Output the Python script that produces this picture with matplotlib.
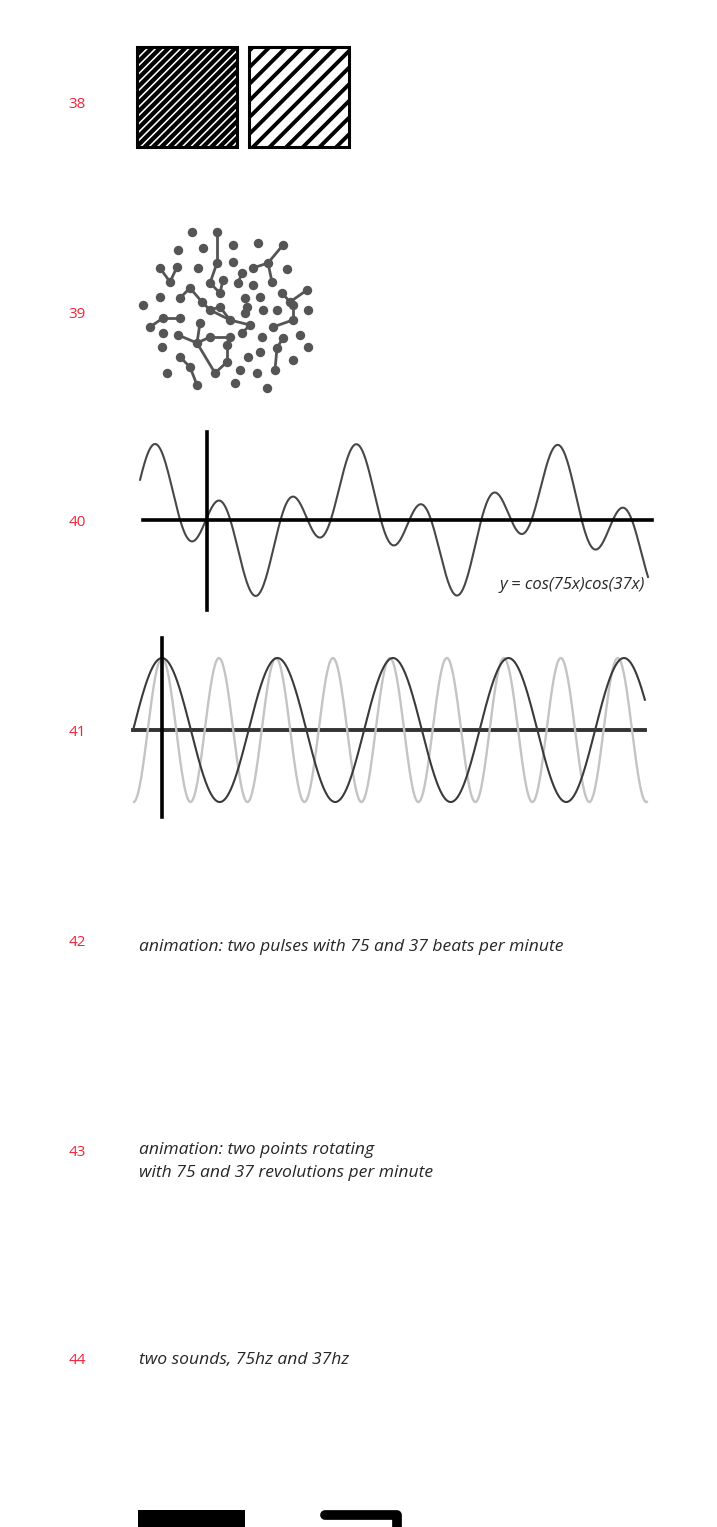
import matplotlib
matplotlib.use('Agg')
import matplotlib.pyplot as plt
import numpy as np

# ---- data ----
row_labels = ['38', '39', '40', '41', '42', '43', '44']
row_y = [105, 315, 523, 732, 943, 1152, 1360]

captions = [
    ('animation: two pulses with 75 and 37 beats per minute', 947),
    ('animation: two points rotating', 1150),
    ('with 75 and 37 revolutions per minute', 1173),
    ('two sounds, 75hz and 37hz', 1360),
]
formula_label = 'y = cos(75x)cos(37x)'

# 38: two hatched squares
square_pos = [0, 1]
square_hatch = ['////', '//']
hatch_width = [3.1, 2.8]

# 39: dot network (panel pixel units)
node_x = [72, 97, 58, 83, 113, 138, 163, 113, 40, 57, 78, 97, 133, 122, 148, 167,
          50, 90, 103, 118, 133, 152, 70, 40, 60, 100, 125, 140, 162, 187, 23, 100,
          127, 143, 157, 173, 188, 30, 43, 60, 80, 110, 125, 130, 153, 173, 43, 58,
          90, 110, 122, 142, 163, 180, 42, 77, 107, 140, 157, 188, 60, 128, 173, 47,
          70, 95, 107, 120, 137, 155, 77, 115, 147, 82, 90, 170]
node_y = [22, 22, 40, 38, 35, 33, 35, 52, 58, 57, 58, 53, 58, 63, 53, 59,
          72, 73, 70, 73, 75, 72, 78, 87, 88, 83, 88, 87, 83, 80, 95, 97,
          97, 100, 100, 95, 100, 117, 108, 108, 113, 110, 103, 115, 117, 110, 123, 125,
          127, 127, 123, 127, 128, 125, 137, 133, 135, 142, 138, 137, 147, 147, 150, 163,
          157, 163, 152, 160, 163, 160, 175, 173, 178, 92, 100, 92]
edges = [(1, 11), (11, 17), (17, 25), (6, 14), (14, 12), (14, 21), (8, 16), (16, 9),
         (22, 24), (22, 73), (73, 74), (74, 31), (37, 38), (38, 39), (55, 47), (55, 40),
         (55, 48), (55, 65), (65, 66), (66, 56), (56, 49), (48, 49), (60, 64), (64, 70),
         (58, 69), (52, 58), (35, 45), (45, 44), (28, 75), (29, 75), (75, 35), (19, 13),
         (31, 41), (41, 43), (43, 50), (18, 25), (74, 41)]

# 40: y = cos(75x)cos(37x)
f_fast, f_slow = 75, 37
x40_range = (-0.0559, 0.368)
x40_phase = -0.0434
x40_axis = (-0.0534, 0.3714)
y40_axis = (1.16, -1.18)

# 41: cos(37x) and cos(75x)
x41_dark = (-0.0426, 0.710)
x41_light = (-0.0412, 0.713)
x41_axis = (-0.0426, 0.710)
y41_axis = (1.28, -1.21)

W, H = 717, 1527
fig = plt.figure(figsize=(W / 100, H / 100), dpi=100)
fig.patch.set_facecolor('white')


def panel(x0, y0, x1, y1):
    ax = fig.add_axes([x0 / W, 1 - y1 / H, (x1 - x0) / W, (y1 - y0) / H])
    ax.set_axis_off()
    return ax


# background layer for texts
bg = panel(0, 0, W, H)
bg.set_xlim(0, W)
bg.set_ylim(H, 0)

red = '#f2243a'
for lab, yy in zip(row_labels, row_y):
    bg.text(77, yy, lab, color=red, fontsize=11, ha='center', va='center',
            family='Open Sans')
for txt, yy in captions:
    bg.text(139, yy, txt, color='#262626', fontsize=12.6, style='italic',
            ha='left', va='center', family='Open Sans')
bg.text(645, 585, formula_label, color='#262626', fontsize=12, style='italic',
        ha='right', va='center', family='Open Sans')

# bottom cut-off shapes
bg.fill_between([138, 245], 1510, 1535, color='black', lw=0)
bg.plot([325, 397, 397], [1515, 1515, 1535], color='black', lw=7,
        solid_capstyle='round', solid_joinstyle='round')

# ---- 38 ----
ax38 = panel(130, 40, 357, 155)
for xp, h, hw in zip(square_pos, square_hatch, hatch_width):
    with plt.rc_context({'hatch.linewidth': hw}):
        ax38.bar(xp, 1, width=100 / 112, bottom=0, color='white',
                 edgecolor='black', linewidth=2.2, hatch=h)
ax38.set_xlim(-57 / 112, 170 / 112)
ax38.set_ylim(-0.08, 1.07)

# ---- 39 ----
ax39 = panel(120, 210, 340, 400)
for i, j in edges:
    ax39.plot([node_x[i], node_x[j]], [node_y[i], node_y[j]], color='#555555',
              lw=2.0, solid_capstyle='round')
ax39.scatter(node_x, node_y, s=46, color='#555555', linewidths=0, zorder=3)
ax39.set_xlim(0, 220)
ax39.set_ylim(190, 0)

# ---- 40 ----
ax40 = panel(130, 425, 660, 615)
x = np.linspace(*x40_range, 1200)
y = np.cos(f_fast * (x - x40_phase)) * np.cos(f_slow * (x - x40_phase))
ax40.plot(x, y, color='#474747', lw=1.5, zorder=2)
ax40.plot(x40_axis, [0, 0], color='black', lw=2.6, zorder=3)
ax40.plot([0, 0], y40_axis, color='black', lw=2.6, zorder=4)
ax40.set_xlim(-0.0643, 0.378)
ax40.set_ylim(-1.25, 1.25)

# ---- 41 ----
ax41 = panel(125, 630, 655, 825)
xa = np.linspace(*x41_dark, 1200)
xb = np.linspace(*x41_light, 1200)
ax41.plot(x41_axis, [0, 0], color='#333333', lw=2.8, zorder=1)
ax41.plot(xb, np.cos(f_fast * xb), color='#c4c4c4', lw=1.7, zorder=2)
ax41.plot(xa, np.cos(f_slow * xa), color='#3a3a3a', lw=1.5, zorder=3)
ax41.plot([0, 0], y41_axis, color='black', lw=2.6, zorder=4)
ax41.set_xlim(-0.0544, 0.7249)
ax41.set_ylim(-1.319, 1.389)

fig.savefig('out.png', dpi=100, facecolor='white')
